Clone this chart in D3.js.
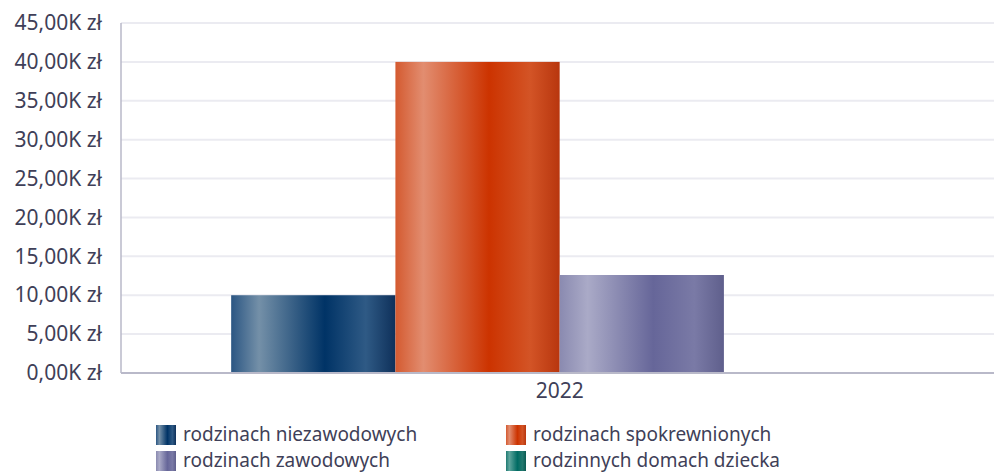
<!DOCTYPE html>
<html>
<head>
<meta charset="utf-8">
<script src="https://cdn.jsdelivr.net/npm/d3@7"></script>
<style>
  body { margin: 0; background: #fff; }
  svg text { font-family: "Noto Sans", "Open Sans", sans-serif; fill: #3f3f58; }
</style>
</head>
<body>
<div id="chart"></div>
<script>
// data
var categories = ["2022"];
var seriesNames = ["rodzinach niezawodowych", "rodzinach spokrewnionych", "rodzinach zawodowych", "rodzinnych domach dziecka"];
var seriesValues = [10000, 40000, 12600, 0];
var yTicks = [0, 5000, 10000, 15000, 20000, 25000, 30000, 35000, 40000, 45000];

// gradient stops for each series: edge, highlight, base, mid, dark edge
var seriesColors = [
  ["#2b5683", "#7490a8", "#003366", "#2f5a85", "#0e305a"],
  ["#d45a30", "#e28d70", "#cc3300", "#d35426", "#b8360e"],
  ["#8a8ab0", "#aaaac7", "#666699", "#7a7aa6", "#5f5f8c"],
  ["#1f7a72", "#5ea59d", "#006b63", "#23796f", "#0b5a52"]
];

var svgWidth = 994;
var svgHeight = 472;
var margin = { top: 23, right: 0, bottom: 99, left: 121 };
var width = svgWidth - margin.left - margin.right;
var height = svgHeight - margin.top - margin.bottom;

var svg = d3.select("#chart")
  .append("svg")
  .attr("width", svgWidth)
  .attr("height", svgHeight);

var defs = svg.append("defs");
seriesColors.forEach(function(c, i) {
  var g = defs.append("linearGradient")
    .attr("id", "grad" + i)
    .attr("x1", "0%").attr("x2", "100%")
    .attr("y1", "0%").attr("y2", "0%");
  var offs = [0, 0.17, 0.57, 0.82, 1];
  c.forEach(function(col, j) {
    g.append("stop").attr("offset", offs[j]).attr("stop-color", col);
  });
});

var chartGroup = svg.append("g")
  .attr("transform", `translate(${margin.left}, ${margin.top})`);

var x0 = d3.scaleBand()
  .domain(categories)
  .range([0, width])
  .paddingInner(0)
  .paddingOuter(0.1644)
  .align(0.51);

var x1 = d3.scaleBand()
  .domain(d3.range(seriesNames.length))
  .range([0, x0.bandwidth()]);

var y = d3.scaleLinear()
  .domain([0, 45000])
  .range([height, 0]);

// gridlines
chartGroup.selectAll(".grid")
  .data(yTicks.slice(1))
  .enter()
  .append("line")
  .attr("x1", 0)
  .attr("x2", width)
  .attr("y1", d => y(d))
  .attr("y2", d => y(d))
  .attr("stroke", "#ebebf1")
  .attr("stroke-width", 2);

// y axis labels
var fmt = d3.format(",.2f");
var leftAxis = d3.axisLeft(y)
  .tickValues(yTicks)
  .tickSize(0)
  .tickPadding(19)
  .tickFormat(d => fmt(d / 1000).replace(".", ",") + "K zł");

var yAxis = chartGroup.append("g").call(leftAxis)
  .attr("font-size", null)
  .attr("font-family", null);
yAxis.select(".domain").remove();
yAxis.selectAll("text")
  .style("font-size", "21px");

// bars
categories.forEach(function(cat) {
  chartGroup.selectAll(".bar")
    .data(seriesValues)
    .enter()
    .append("rect")
    .attr("x", (d, i) => x0(cat) + x1(i))
    .attr("y", d => y(d))
    .attr("width", x1.bandwidth())
    .attr("height", d => height - y(d))
    .attr("fill", (d, i) => "url(#grad" + i + ")");
});

// axis lines
chartGroup.append("line")
  .attr("x1", 0).attr("x2", 0)
  .attr("y1", 0).attr("y2", height)
  .attr("stroke", "#b9b9c9").attr("stroke-width", 1.5);
chartGroup.append("line")
  .attr("x1", 0).attr("x2", width)
  .attr("y1", height).attr("y2", height)
  .attr("stroke", "#b9b9c9").attr("stroke-width", 2);

// x axis label
var bottomAxis = d3.axisBottom(x0).tickSize(0).tickPadding(10);
var xAxis = chartGroup.append("g")
  .attr("transform", `translate(0,${height})`)
  .call(bottomAxis)
  .attr("font-size", null)
  .attr("font-family", null);
xAxis.select(".domain").remove();
xAxis.selectAll("text")
  .style("font-size", "21px");

// legend
var legendPos = [[156, 424], [506, 424], [156, 450], [506, 450]];
var legend = svg.selectAll(".legend")
  .data(seriesNames)
  .enter()
  .append("g")
  .attr("transform", (d, i) => `translate(${legendPos[i][0]}, ${legendPos[i][1]})`);

legend.append("rect")
  .attr("y", 1)
  .attr("width", 20)
  .attr("height", 20)
  .attr("fill", (d, i) => "url(#grad" + i + ")");

legend.append("text")
  .attr("x", 27)
  .attr("y", 17)
  .style("font-size", "19px")
  .text(d => d);
</script>
</body>
</html>
